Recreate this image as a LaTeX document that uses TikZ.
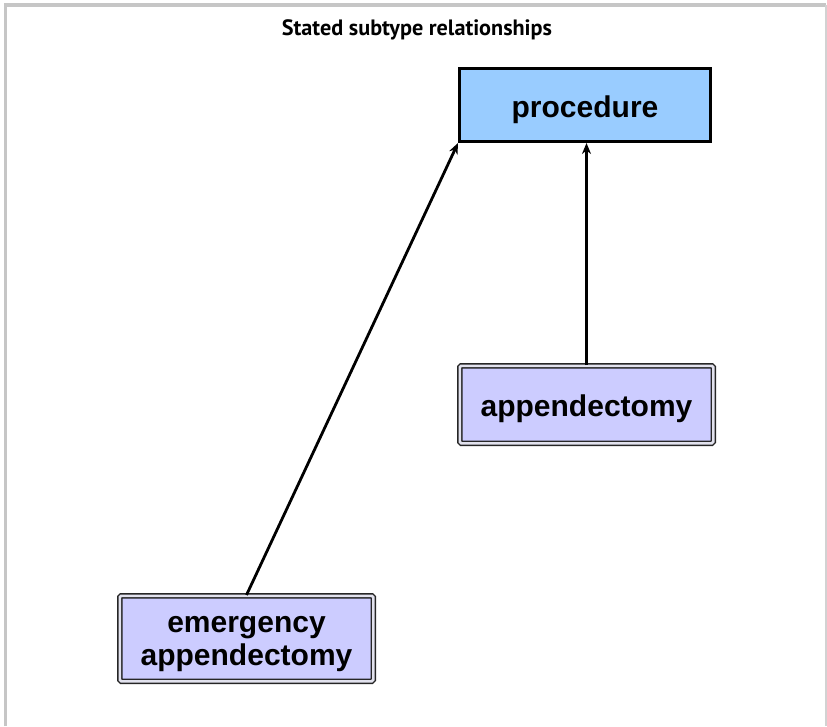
\documentclass[tikz,border=0pt]{standalone}
\usepackage{fontspec}
\usepackage{tikz}
\usetikzlibrary{arrows.meta}
\newfontfamily\boxfont{Liberation Sans}
\newfontfamily\headfont{PT Sans}
\definecolor{procblue}{HTML}{99CCFF}
\definecolor{subviolet}{HTML}{CCCCFF}
\definecolor{subgap}{HTML}{E2E2EE}
\tikzset{
  every node/.append style={font=\boxfont\bfseries\fontsize{30}{33}\selectfont},
  superbox/.style={draw=black, line width=3pt, fill=procblue, minimum width=251pt, minimum height=73pt,
    inner sep=0pt, text height=25pt, text depth=0pt},
  subbox/.style={draw=black!85, line width=1.5pt, double=subgap, double distance=2.5pt, fill=subviolet,
    rounded corners=1.5pt, minimum width=253.5pt, inner sep=0pt, align=center},
  isa/.style={->, line width=2.8pt}
}
\begin{document}
\begin{tikzpicture}[x=1pt, y=-1pt, >={Stealth[length=11pt,width=9pt]}]
    \useasboundingbox (0,0) rectangle (827,726);
    % frame round the panel
    \draw[gray!45, line width=3.5pt] (5.5,726) -- (5.5,5) -- (825.5,5);
    \draw[gray!35, line width=2pt] (825.5,5) -- (825.5,726);
    \node[font=\headfont\bfseries\fontsize{22.2}{26}\selectfont, anchor=base] (title) at (417,35) {Stated subtype relationships};
    % concepts
    \node[superbox] (proc) at (585,105) {procedure};
    \node[subbox, minimum height=77.5pt, text height=24pt, text depth=0pt] (app) at (586.5,404.5) {appendectomy};
    \node[subbox, minimum height=85.5pt, text height=55pt, text depth=2pt] (emg) at (246.5,638.5) {emergency\\appendectomy};
    % subtype links
    \draw[isa] (app.north) -- (app.north |- proc.south);
    \draw[isa] (emg.north) -- (proc.south west);
\end{tikzpicture}
\end{document}
